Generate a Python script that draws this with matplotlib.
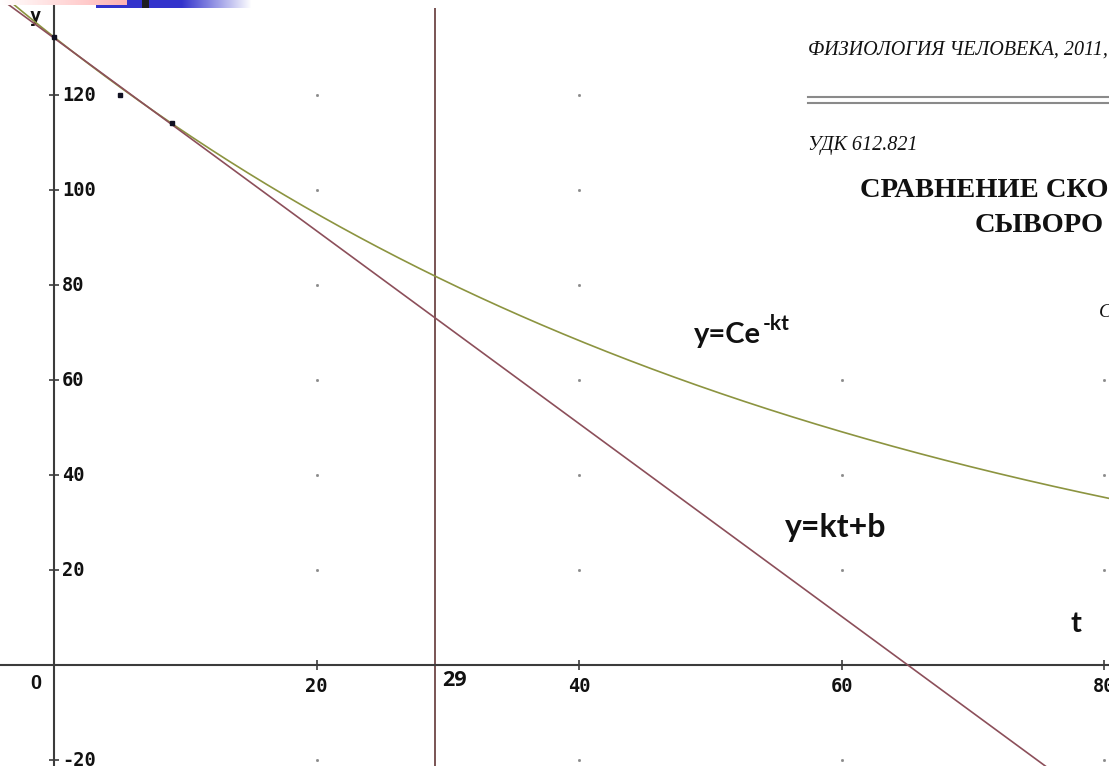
import numpy as np
import matplotlib
matplotlib.use("Agg")
import matplotlib.pyplot as plt
from matplotlib.patches import Rectangle

# --- measured points and fitted model parameters ---
t_obs = [0, 5, 9]
y_obs = [132.2, 120.0, 114.1]

C_exp = 132.2          # y = C * exp(-k t)
k_exp = 0.01651
k_lin = -2.03          # y = k t + b
b_lin = 132.0
t_mark = 29            # vertical marker line

x_ticks = [20, 40, 60, 80]
x_tick_labels = ["20", "40", "60", "80"]
y_ticks = [-20, 20, 40, 60, 80, 100, 120]
y_tick_labels = ["-20", "20", "40", "60", "80", "100", "120"]

# --- colours ---
AXIS_C = "#3c3c3c"
EXP_C = "#8c9440"
LIN_C = "#8c4f5a"
MARK_C = "#6e4646"

fig = plt.figure(figsize=(11.09, 7.66), dpi=100)
ax = fig.add_axes([0, 0, 1, 1])
ax.set_xlim(-4.11, 80.35)
ax.set_ylim(-21.26, 140.0)

for s in ("top", "right"):
    ax.spines[s].set_visible(False)
ax.spines["left"].set_position(("data", 0))
ax.spines["bottom"].set_position(("data", 0))
for s in ("left", "bottom"):
    ax.spines[s].set_color(AXIS_C)
    ax.spines[s].set_linewidth(1.5)

ax.set_xticks(x_ticks)
ax.set_yticks(y_ticks)
ax.set_xticklabels([])
ax.set_yticklabels([])
ax.tick_params(direction="inout", length=7, width=1.2, color=AXIS_C)

mono = dict(family="DejaVu Sans Mono", weight="bold", size=13.5, color="#111111")
for v, lab in zip(y_ticks, y_tick_labels):
    ax.annotate(lab, xy=(0, v), xytext=(8, 0), textcoords="offset pixels",
                ha="left", va="center", **mono)
for v, lab in zip(x_ticks, x_tick_labels):
    ax.annotate(lab, xy=(v, 0), xytext=(0, -21), textcoords="offset pixels",
                ha="center", va="center", **mono)
ax.annotate("y", xy=(0, 1), xycoords=("data", "axes fraction"), xytext=(-19, -17),
            textcoords="offset pixels", ha="center", va="center", **mono)
ax.annotate("0", xy=(0, 0), xytext=(-18, -18), textcoords="offset pixels",
            ha="center", va="center", family="Liberation Sans", weight="bold",
            size=14.5, color="#111111")

# background dot grid
gx, gy = np.meshgrid(x_ticks, y_ticks)
ax.plot(gx.ravel(), gy.ravel(), ls="none", marker="s", ms=1.0, color="#8a8a8a", zorder=1)

# model curves
t = np.linspace(-4.11, 80.35, 600)
ax.plot(t, C_exp * np.exp(-k_exp * t), color=EXP_C, lw=1.2, zorder=3)
ax.plot(t, k_lin * t + b_lin, color=LIN_C, lw=1.2, zorder=3)

# marker line at t = 29
ax.vlines(t_mark, -21.26, 138.3, color=MARK_C, lw=1.3, zorder=2)
ax.annotate(str(t_mark), xy=(t_mark, 0), xytext=(20, -15), textcoords="offset pixels",
            ha="center", va="center", family="Open Sans", weight="bold", size=15.5,
            color="#111111")

# observations
ax.plot(t_obs, y_obs, ls="none", marker="s", ms=3, color="#111122", zorder=4)

# curve labels
eq = dict(family="Lato", weight="bold", color="#111111")
main = ax.text(48.7, 67.8, "y=Ce", ha="left", va="baseline", size=21, **eq)
ax.annotate("-kt", xy=(1, 0), xycoords=main, xytext=(2, 14), textcoords="offset pixels",
            ha="left", va="bottom", size=15, **eq)
ax.text(55.7, 26.9, "y=kt+b", ha="left", va="baseline", size=23, **eq)
ax.annotate("t", xy=(1, 0), xycoords=("axes fraction", "data"), xytext=(-33, 41),
            textcoords="offset pixels", ha="center", va="center", size=21, **eq)

# --- overlay: slide strip and journal header ---
ov = fig.add_axes([0, 0, 1, 1], zorder=5)
ov.patch.set_alpha(0)
ov.axis("off")

ov.add_patch(Rectangle((790, 20), 319, 275, facecolor="white", edgecolor="none", zorder=0))

blue = np.ones((1, 160, 3))
ramp = np.clip((np.arange(160) - 85) / 70.0, 0, 1)
base = np.array([0.2, 0.2, 0.8])
blue[0] = base[None, :] * (1 - ramp[:, None]) + ramp[:, None]
ov.imshow(blue, extent=(96, 256, 8, 0), aspect="auto", zorder=1, interpolation="bilinear")
pink = np.ones((1, 128, 3))
r = np.linspace(0, 1, 128)
pink[0] = np.array([1.0, 1.0, 1.0])[None, :] * (1 - r[:, None]) + np.array([1.0, 0.70, 0.70])[None, :] * r[:, None]
ov.imshow(pink, extent=(0, 127, 5, 0), aspect="auto", zorder=2, interpolation="bilinear")
ov.add_patch(Rectangle((142, 0), 7, 8, facecolor="#1e1e22", edgecolor="none", zorder=3))

serif = "Liberation Serif"
ov.text(808, 55, "ФИЗИОЛОГИЯ ЧЕЛОВЕКА, 2011,", family=serif, style="italic",
        size=14.5, ha="left", va="baseline", color="#111111", clip_on=True)
ov.plot([808, 1109], [97, 97], color="#8a8a8a", lw=1.5)
ov.plot([808, 1109], [102.5, 102.5], color="#8a8a8a", lw=1.5)
ov.text(808, 150, "УДК 612.821", family=serif, style="italic", size=14.5,
        ha="left", va="baseline", color="#111111", clip_on=True)
ov.text(860, 197, "СРАВНЕНИЕ СКО", family=serif, weight="bold", size=20.5,
        ha="left", va="baseline", color="#111111", clip_on=True)
ov.text(975, 232, "СЫВОРО", family=serif, weight="bold", size=20.5,
        ha="left", va="baseline", color="#111111", clip_on=True)
ov.text(1099, 317, "С", family=serif, style="italic", size=14,
        ha="left", va="baseline", color="#111111", clip_on=True)

ov.set_xlim(0, 1109)
ov.set_ylim(766, 0)

fig.savefig("out.png", dpi=100)
